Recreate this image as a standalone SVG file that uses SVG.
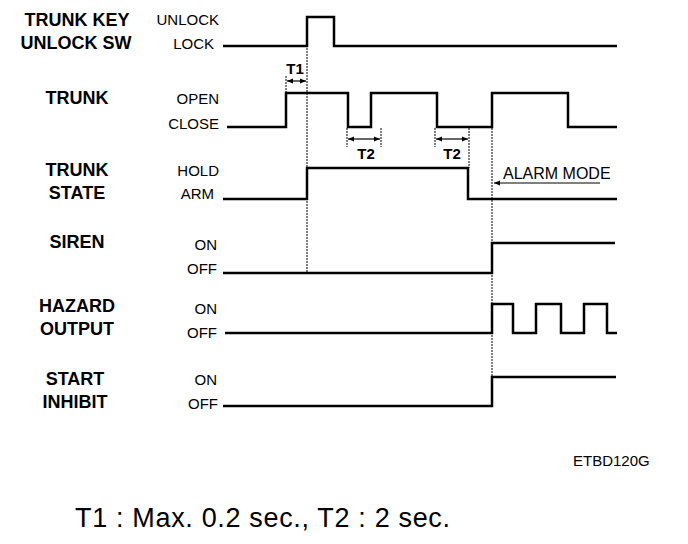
<svg xmlns="http://www.w3.org/2000/svg" width="688" height="544" viewBox="0 0 688 544">
<style>
.bg{fill:#fff}
.sig{fill:none;stroke:#000;stroke-width:2.5;stroke-linejoin:miter}
.dot{fill:none;stroke:#000;stroke-width:1;stroke-dasharray:2 1}
.arr{fill:none;stroke:#000;stroke-width:1.2}
.name{font-family:"Liberation Sans",Arial,sans-serif;font-weight:bold;font-size:18px;text-anchor:middle;fill:#000}
.lvl{font-family:"Liberation Sans",Arial,sans-serif;font-size:15px;text-anchor:end;fill:#000}
.tm{font-family:"Liberation Sans",Arial,sans-serif;font-weight:bold;font-size:15px;text-anchor:middle;fill:#000}
.note{font-family:"Liberation Sans",Arial,sans-serif;font-size:16px;fill:#000}
</style>
<defs>
<marker id="ah" viewBox="0 0 10 10" refX="10" refY="5" markerWidth="6" markerHeight="6" orient="auto-start-reverse" markerUnits="userSpaceOnUse">
<path d="M0,1 L10,5 L0,9 Z" fill="#000"/>
</marker>
</defs>
<rect class="bg" x="0" y="0" width="688" height="544"/>

<g id="trunk-key">
<text class="name" x="77" y="26">TRUNK KEY</text>
<text class="name" x="76" y="49">UNLOCK SW</text>
<text class="lvl" x="219" y="25">UNLOCK</text>
<text class="lvl" x="214" y="49">LOCK</text>
<path class="sig" d="M223,46 H307 V17 H334 V46 H617"/>
</g>

<g id="trunk">
<text class="name" x="77" y="104">TRUNK</text>
<text class="lvl" x="219" y="104">OPEN</text>
<text class="lvl" x="219" y="129">CLOSE</text>
<path class="sig" d="M227,127 H286 V93 H348 V127 H371 V93 H437 V127 H492 V93 H568 V127 H617"/>
</g>

<g id="trunk-state">
<text class="name" x="77" y="176">TRUNK</text>
<text class="name" x="77" y="199">STATE</text>
<text class="lvl" x="219" y="176">HOLD</text>
<text class="lvl" x="214" y="199">ARM</text>
<path class="sig" d="M223,199 H307 V168 H468 V199 H617"/>
</g>

<g id="siren">
<text class="name" x="77" y="248">SIREN</text>
<text class="lvl" x="217" y="250">ON</text>
<text class="lvl" x="217" y="274">OFF</text>
<path class="sig" d="M223,273 H492 V243 H615"/>
</g>

<g id="hazard-output">
<text class="name" x="77" y="312">HAZARD</text>
<text class="name" x="77" y="335">OUTPUT</text>
<text class="lvl" x="217" y="314">ON</text>
<text class="lvl" x="217" y="338">OFF</text>
<path class="sig" d="M225,333 H492 V304 H513 V333 H536 V304 H561 V333 H584 V304 H607 V333 H617"/>
</g>

<g id="start-inhibit">
<text class="name" x="75" y="385">START</text>
<text class="name" x="75" y="408">INHIBIT</text>
<text class="lvl" x="217" y="385">ON</text>
<text class="lvl" x="218" y="409">OFF</text>
<path class="sig" d="M223,406 H492 V377 H616"/>
</g>

<g id="connectors">
<line class="dot" x1="286" y1="76" x2="286" y2="93"/>
<line class="dot" x1="307" y1="48" x2="307" y2="273"/>
<line class="arr" x1="287" y1="81" x2="306" y2="81" marker-start="url(#ah)" marker-end="url(#ah)"/>
<text class="tm" x="295" y="74">T1</text>

<line class="dot" x1="347" y1="128" x2="347" y2="147"/>
<line class="dot" x1="381" y1="128" x2="381" y2="147"/>
<line class="arr" x1="348" y1="139" x2="380" y2="139" marker-start="url(#ah)" marker-end="url(#ah)"/>
<text class="tm" x="366" y="159">T2</text>

<line class="dot" x1="435" y1="128" x2="435" y2="147"/>
<line class="dot" x1="469" y1="128" x2="469" y2="168"/>
<line class="arr" x1="436" y1="139" x2="468" y2="139" marker-start="url(#ah)" marker-end="url(#ah)"/>
<text class="tm" x="452" y="159">T2</text>

<line class="dot" x1="492" y1="128" x2="492" y2="407"/>
<line class="arr" x1="600" y1="183" x2="494" y2="183" marker-end="url(#ah)"/>
<text class="note" x="503" y="179">ALARM MODE</text>
</g>

<text x="573" y="466" style="font-family:'Liberation Sans',Arial,sans-serif;font-size:15px;fill:#000">ETBD120G</text>
<text x="75" y="527" textLength="375" lengthAdjust="spacing" style="font-family:'Liberation Sans',Arial,sans-serif;font-size:27px;fill:#000">T1 : Max.  0.2 sec., T2 : 2 sec.</text>
</svg>
